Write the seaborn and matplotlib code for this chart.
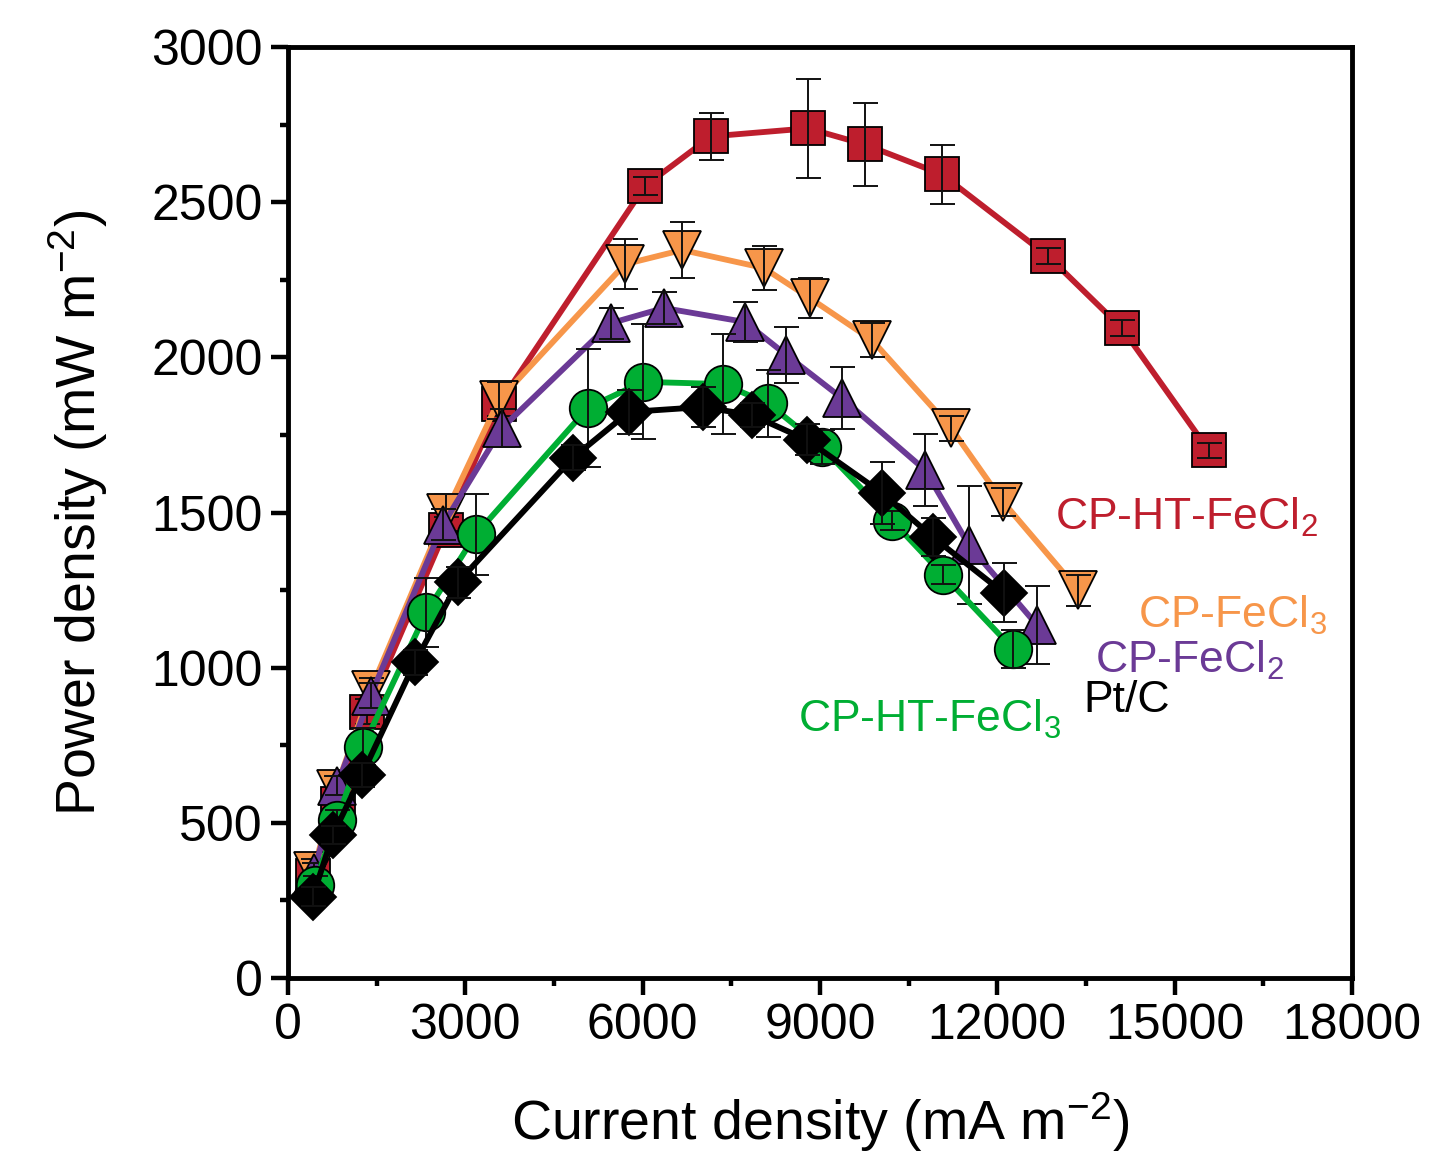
import numpy as np
import pandas as pd
import matplotlib
matplotlib.use('Agg')
import matplotlib.pyplot as plt
import seaborn as sns
from matplotlib.ticker import MultipleLocator

# Data
red_x = [420, 850, 1340, 2670, 3570, 6040, 7160, 8800, 9760, 11060, 12860, 14110, 15580]
red_y = [330, 560, 858, 1445, 1850, 2552, 2712, 2738, 2686, 2590, 2326, 2094, 1700]
red_err = [30, 30, 40, 40, 40, 30, 75, 160, 135, 95, 25, 25, 25]

orange_x = [430, 812, 1400, 2673, 3570, 5700, 6670, 8050, 8830, 9880, 11220, 12100, 13370]
orange_y = [345, 610, 928, 1500, 1862, 2300, 2346, 2288, 2191, 2056, 1772, 1534, 1250]
orange_err = [40, 40, 40, 60, 60, 80, 90, 70, 65, 55, 40, 45, 50]

purple_x = [440, 830, 1400, 2620, 3620, 5460, 6360, 7730, 8430, 9370, 10780, 11520, 12670]
purple_y = [340, 620, 910, 1460, 1772, 2110, 2159, 2114, 2008, 1869, 1637, 1395, 1138]
purple_err = [30, 30, 40, 50, 60, 50, 50, 65, 90, 100, 115, 190, 125]

green_x = [450, 830, 1270, 2340, 3180, 5080, 6010, 7360, 8120, 9030, 10220, 11080, 12270]
green_y = [300, 510, 745, 1178, 1430, 1838, 1921, 1914, 1852, 1712, 1474, 1300, 1060]
green_err = [30, 30, 60, 110, 130, 190, 185, 160, 108, 55, 30, 30, 60]

black_x = [420, 760, 1250, 2150, 2880, 4820, 5770, 7020, 7850, 8780, 10050, 10910, 12110]
black_y = [262, 461, 654, 1018, 1276, 1676, 1824, 1840, 1814, 1734, 1563, 1421, 1241]
black_err = [30, 30, 40, 40, 50, 40, 70, 65, 40, 50, 100, 60, 95]

sns.set_style('white')
plt.rcParams['font.family'] = ['Liberation Sans', 'DejaVu Sans']
plt.rcParams['mathtext.fontset'] = 'custom'
plt.rcParams['mathtext.rm'] = 'Liberation Sans'
plt.rcParams['mathtext.it'] = 'Liberation Sans'
plt.rcParams['text.color'] = 'black'
plt.rcParams['axes.labelcolor'] = 'black'
plt.rcParams['xtick.color'] = 'black'
plt.rcParams['ytick.color'] = 'black'

fig = plt.figure(figsize=(14.29, 11.61), dpi=100)
ax = fig.add_axes([0.2015, 0.1576, 0.7445, 0.8019])

series = [
    ('CP-HT-FeCl$_2$', red_x, red_y, red_err, '#BE1E2D', 's', 24),
    ('CP-FeCl$_3$', orange_x, orange_y, orange_err, '#F7964A', 'v', 27),
    ('CP-FeCl$_2$', purple_x, purple_y, purple_err, '#6B3A96', '^', 27),
    ('CP-HT-FeCl$_3$', green_x, green_y, green_err, '#00AE33', 'o', 27),
    ('Pt/C', black_x, black_y, black_err, '#000000', 'D', 23),
]

for i, (name, xs, ys, es, col, mk, ms) in enumerate(series):
    df = pd.DataFrame({'x': xs, 'y': ys})
    sns.lineplot(data=df, x='x', y='y', sort=False, estimator=None, ax=ax,
                 color=col, linewidth=4.2, marker=mk, markersize=ms,
                 markerfacecolor=col, markeredgecolor='black', markeredgewidth=1.3,
                 zorder=3 + i * 2)
    ax.errorbar(xs, ys, yerr=es, fmt='none', ecolor='#111111', elinewidth=1.4,
                capsize=9, capthick=1.4, zorder=4 + i * 2)

# curve labels
lab_kw = dict(fontsize=32, ha='left', va='baseline')
ax.text(12976, 1444, 'CP-HT-FeCl$_2$', color='#BE1E2D', **lab_kw)
ax.text(14380, 1128, 'CP-FeCl$_3$', color='#F7964A', **lab_kw)
ax.text(13652, 985, 'CP-FeCl$_2$', color='#6B3A96', **lab_kw)
ax.text(13450, 856, 'Pt/C', color='black', **lab_kw)
ax.text(8628, 795, 'CP-HT-FeCl$_3$', color='#00AE33', **lab_kw)

ax.set_xlim(0, 18000)
ax.set_ylim(0, 3000)
ax.xaxis.set_major_locator(MultipleLocator(3000))
ax.xaxis.set_minor_locator(MultipleLocator(1500))
ax.yaxis.set_major_locator(MultipleLocator(500))
ax.yaxis.set_minor_locator(MultipleLocator(250))
ax.tick_params(axis='both', which='major', direction='out', length=12, width=3.2,
               labelsize=36, pad=6, bottom=True, left=True)
ax.tick_params(axis='both', which='minor', direction='out', length=6, width=3.2,
               bottom=True, left=True)
for sp in ax.spines.values():
    sp.set_linewidth(3.5)
    sp.set_color('black')

ax.set_xlabel('Current density (mA m$^{-2}$)', fontsize=40, labelpad=30)
ax.set_ylabel('Power density (mW m$^{-2}$)', fontsize=40, labelpad=30)
ax.grid(False)

plt.savefig('out.png', dpi=100)
plt.close()
